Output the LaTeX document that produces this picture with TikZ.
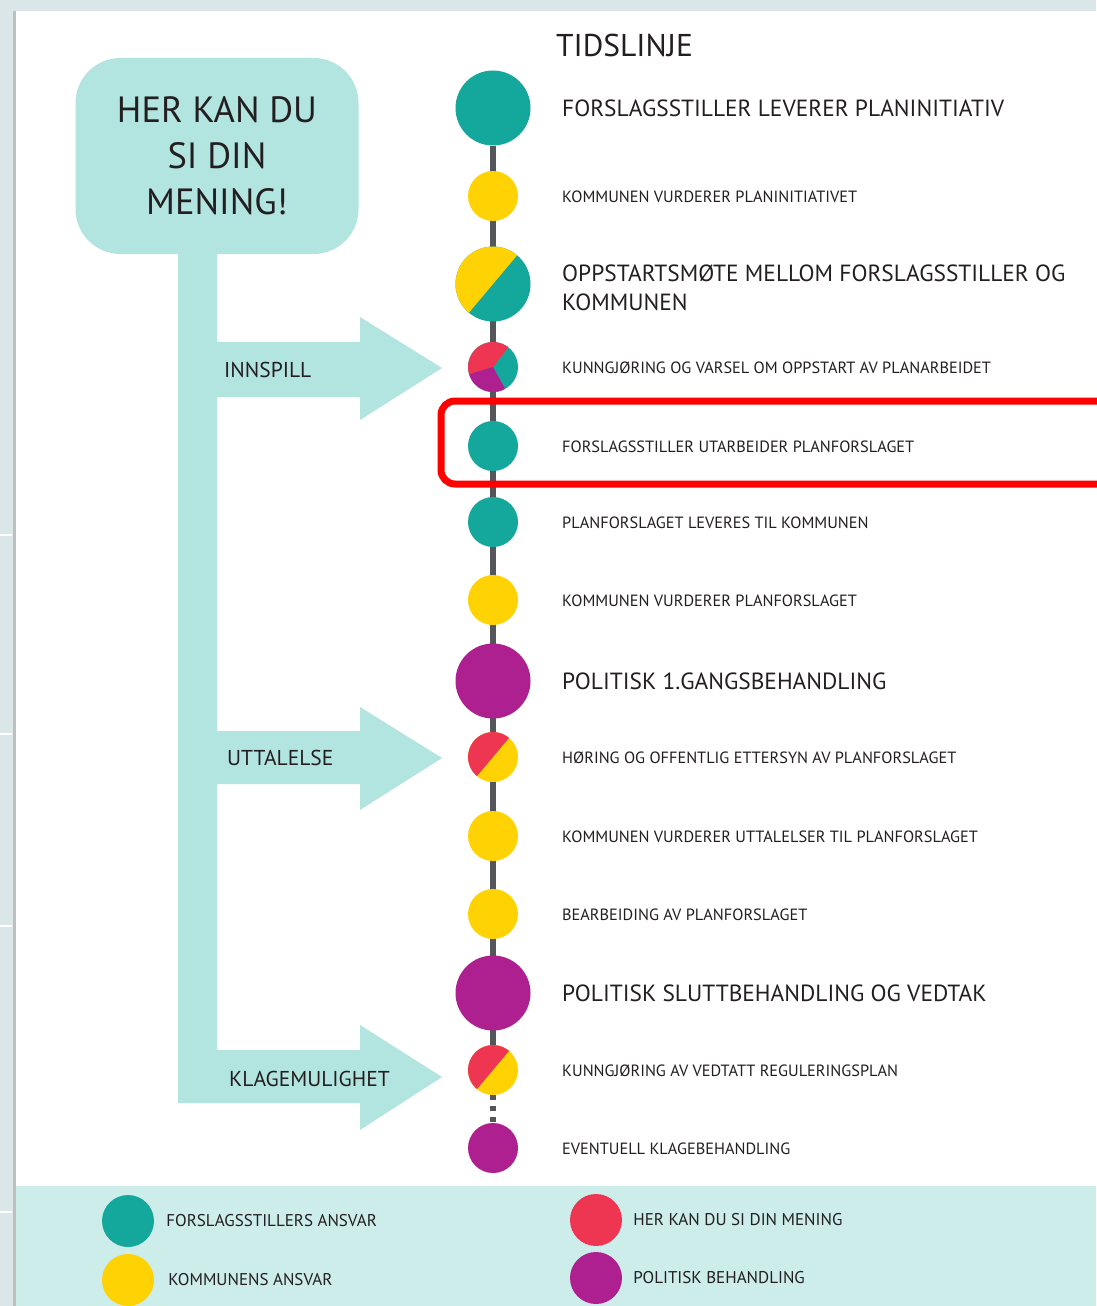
\documentclass[tikz,border=0pt]{standalone}
\usepackage{fontspec}
\setmainfont{PT Sans}
\usetikzlibrary{positioning,backgrounds}

\definecolor{tealA}{HTML}{14A79C}
\definecolor{yellowA}{HTML}{FFD204}
\definecolor{magentaA}{HTML}{AE208F}
\definecolor{redA}{HTML}{EE3551}
\definecolor{mint}{HTML}{B2E4E0}
\definecolor{band}{HTML}{CCEDEA}
\definecolor{frame}{HTML}{DAE6E8}
\definecolor{rail}{HTML}{555659}
\definecolor{ink}{HTML}{231F20}

\newcommand{\largetxt}{\fontsize{23.4}{29}\selectfont}
\newcommand{\smalltxt}{\fontsize{16.3}{19}\selectfont}

\tikzset{
  stage/.style={circle, inner sep=0pt, minimum size=50pt},
  major/.style={stage, minimum size=75pt},
  halves/.style 2 args={fill=#2, path picture={
      \fill[#1] (path picture bounding box.center) -- ++(-50:60)
        arc[start angle=-50, end angle=-230, radius=60] -- cycle;}},
  triple/.style={fill=tealA, path picture={
      \fill[redA] (path picture bounding box.center) -- ++(-52:60)
        arc[start angle=-52, end angle=-197, radius=60] -- cycle;
      \fill[magentaA] (path picture bounding box.center) -- ++(-197:60)
        arc[start angle=-197, end angle=-299, radius=60] -- cycle;}},
  phase/.style={anchor=base west, inner sep=0pt, text=ink},
  arrowtxt/.style={anchor=base west, inner sep=0pt, text=ink, font=\fontsize{21.5}{25}\selectfont},
  legendtxt/.style={inner sep=0pt, text=ink, font=\fontsize{17}{20}\selectfont}
}

\begin{document}
\begin{tikzpicture}[x=1pt, y=-1pt]
  \useasboundingbox (0,0) rectangle (1096,1306);

  % header and opinion box
  \node[anchor=base west, inner sep=0pt, text=ink, font=\fontsize{31.5}{36}\selectfont] (title) at (556,57) {TIDSLINJE};
  \node[fill=mint, rounded corners=45pt, minimum width=283pt, minimum height=196pt,
        align=center, text=ink, font=\fontsize{36.5}{46}\selectfont] (opinion) at (217,156)
        {HER KAN DU\\SI DIN\\MENING!};

  % timeline stages
  \node[major, fill=tealA] (s1) at (493,108) {};
  \node[stage, fill=yellowA] (s2) at (493,196) {};
  \node[major, halves={yellowA}{tealA}] (s3) at (493,284) {};
  \node[stage, triple] (s4) at (493,367) {};
  \node[stage, fill=tealA] (s5) at (493,446) {};
  \node[stage, fill=tealA] (s6) at (493,522) {};
  \node[stage, fill=yellowA] (s7) at (493,600) {};
  \node[major, fill=magentaA] (s8) at (493,681) {};
  \node[stage, halves={redA}{yellowA}] (s9) at (493,757) {};
  \node[stage, fill=yellowA] (s10) at (493,836) {};
  \node[stage, fill=yellowA] (s11) at (493,914) {};
  \node[major, fill=magentaA] (s12) at (493,993) {};
  \node[stage, halves={redA}{yellowA}] (s13) at (493,1070) {};
  \node[stage, fill=magentaA] (s14) at (493,1148) {};

  % stage texts
  \node[phase, font=\largetxt] (t1) at (562,116) {FORSLAGSSTILLER LEVERER PLANINITIATIV};
  \node[phase, font=\smalltxt] (t2) at (562,202) {KOMMUNEN VURDERER PLANINITIATIVET};
  \node[anchor=north west, inner sep=0pt, text=ink, align=left, font=\largetxt] (t3) at (562,265)
       {OPPSTARTSMØTE MELLOM FORSLAGSSTILLER OG\\KOMMUNEN};
  \node[phase, font=\smalltxt] (t4) at (562,373) {KUNNGJØRING OG VARSEL OM OPPSTART AV PLANARBEIDET};
  \node[phase, font=\smalltxt] (t5) at (562,452) {FORSLAGSSTILLER UTARBEIDER PLANFORSLAGET};
  \node[phase, font=\smalltxt] (t6) at (562,528) {PLANFORSLAGET LEVERES TIL KOMMUNEN};
  \node[phase, font=\smalltxt] (t7) at (562,606) {KOMMUNEN VURDERER PLANFORSLAGET};
  \node[phase, font=\largetxt] (t8) at (562,689) {POLITISK 1.GANGSBEHANDLING};
  \node[phase, font=\smalltxt] (t9) at (562,763) {HØRING OG OFFENTLIG ETTERSYN AV PLANFORSLAGET};
  \node[phase, font=\smalltxt] (t10) at (562,842) {KOMMUNEN VURDERER UTTALELSER TIL PLANFORSLAGET};
  \node[phase, font=\smalltxt] (t11) at (562,920) {BEARBEIDING AV PLANFORSLAGET};
  \node[phase, font=\largetxt] (t12) at (562,1001) {POLITISK SLUTTBEHANDLING OG VEDTAK};
  \node[phase, font=\smalltxt] (t13) at (562,1076) {KUNNGJØRING AV VEDTATT REGULERINGSPLAN};
  \node[phase, font=\smalltxt] (t14) at (562,1154) {EVENTUELL KLAGEBEHANDLING};

  % arrow labels
  \node[arrowtxt] (innspill) at (224,377) {INNSPILL};
  \node[arrowtxt] (uttalelse) at (227,765) {UTTALELSE};
  \node[arrowtxt] (klage) at (229,1086) {KLAGEMULIGHET};

  % legend
  \node[stage, minimum size=52pt, fill=tealA] (lg1) at (128,1221) {};
  \node[stage, minimum size=52pt, fill=yellowA] (lg2) at (128,1280) {};
  \node[stage, minimum size=52pt, fill=redA] (lg3) at (596,1220) {};
  \node[stage, minimum size=52pt, fill=magentaA] (lg4) at (596,1278) {};
  \node[legendtxt, right=12pt of lg1] (lt1) {FORSLAGSSTILLERS ANSVAR};
  \node[legendtxt, right=14pt of lg2] (lt2) {KOMMUNENS ANSVAR};
  \node[legendtxt, right=11pt of lg3] (lt3) {HER KAN DU SI DIN MENING};
  \node[legendtxt, right=11pt of lg4] (lt4) {POLITISK BEHANDLING};

  % highlight
  \draw[red, line width=7pt, rounded corners=14pt] (441,401) rectangle (1112,484);

  \begin{scope}[on background layer]
    \fill[frame] (0,0) rectangle (1096,1306);
    \fill[white] (16,11) rectangle (1096,1306);
    \fill[black!25] (13,11) rectangle (16,1306);
    \fill[band] (16,1186) rectangle (1096,1306);
    \foreach \y in {535,734,926,1212}
      \draw[white, line width=2pt] (0,\y) -- (12,\y);
    % stem with the three arrows
    \fill[mint] (178,250) -- (217,250) -- (217,342) -- (360,342) -- (360,317) -- (442,368)
      -- (360,420) -- (360,397) -- (217,397) -- (217,731) -- (360,731) -- (360,707)
      -- (442,758) -- (360,810) -- (360,784) -- (217,784) -- (217,1050) -- (360,1050)
      -- (360,1025) -- (442,1077) -- (360,1130) -- (360,1103) -- (178,1103) -- cycle;
    % timeline
    \draw[rail, line width=6pt] (s1) -- (s13);
    \draw[rail, line width=6pt, dash pattern=on 5pt off 6pt] (s13.south) -- (s14.north);
  \end{scope}
\end{tikzpicture}
\end{document}
